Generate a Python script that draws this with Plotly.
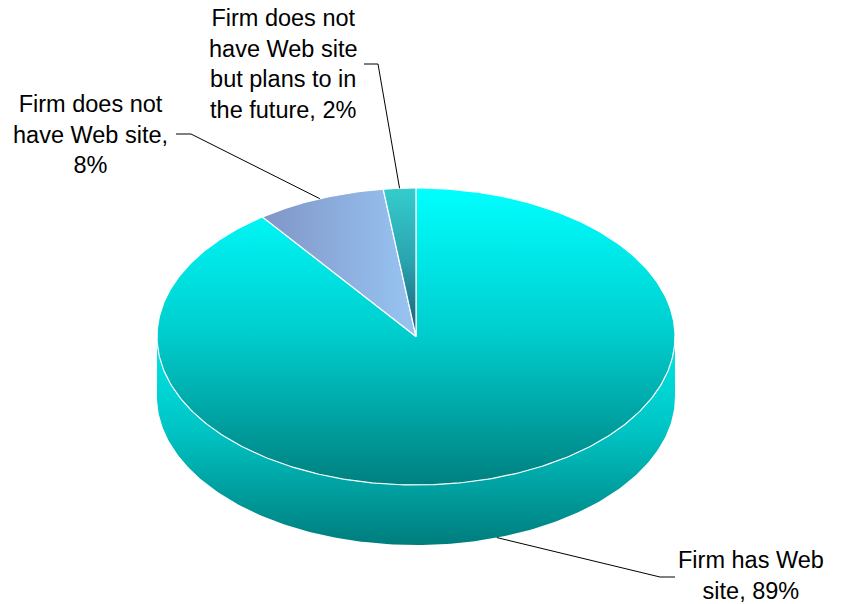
import numpy as np
import plotly.graph_objects as go

# Survey shares (percent)
categories = ["Firm has Web site",
              "Firm does not have Web site",
              "Firm does not have Web site but plans to in the future"]
values = [89, 8, 2]
label_texts = ["Firm has Web<br>site, 89%",
               "Firm does not<br>have Web site,<br>8%",
               "Firm does not<br>have Web site<br>but plans to in<br>the future, 2%"]

# Pie geometry (pixel space: the axes map 1:1 to the page)
W, H = 844, 604
CX, CY = 416, 336.5
RX, RY = 259, 148.5
DEPTH = 60

fills = [
    dict(type="vertical", start=CY - RY, stop=CY + RY,
         colorscale=[[0, "#00ffff"], [0.5, "#00cccc"], [1, "#008080"]]),
    dict(type="horizontal", start=CX - 150, stop=CX - 10,
         colorscale=[[0, "#8196c8"], [1, "#96c2f0"]]),
    dict(type="vertical", start=CY - RY, stop=CY,
         colorscale=[[0, "#35cccc"], [0.5, "#2aa3ae"], [1, "#1a5a78"]]),
]
side_fill = dict(type="vertical", start=CY, stop=CY + RY + DEPTH,
                 colorscale=[[0, "#00e8e8"], [0.45, "#00c4c4"], [1, "#007d7d"]])

# label anchor (text centre) and elbow of the leader line
label_pos = [(751, 575), (90, 134), (283, 64)]
elbows = [((675, 577), (660, 577)), ((176, 134), (191, 134)), ((364, 64), (378, 64))]
font = dict(family="Liberation Sans, Arial, sans-serif", size=23.5, color="#000000")


def ell(t, dy=0.0):
    return CX + RX * np.cos(t), CY - RY * np.sin(t) + dy


total = sum(values)
fig = go.Figure()

# slice angles: start at 12 o'clock, go clockwise
angles = []
a = np.pi / 2
for v in values:
    sweep = 2 * np.pi * v / total
    angles.append((a, a - sweep))
    a -= sweep

# front wall: the part of each slice's rim lying in the lower half of the ellipse
for i, (a0, a1) in enumerate(angles):
    lo, hi = min(a0, a1), max(a0, a1)
    # visible front arc is t in [-pi, 0] (mod 2pi)
    for shift in (0, -2 * np.pi, 2 * np.pi):
        s, e = max(lo + shift, -np.pi), min(hi + shift, 0)
        if e > s:
            t = np.linspace(s, e, 200)
            xt, yt = ell(t)
            xb, yb = ell(t[::-1], DEPTH)
            fig.add_trace(go.Scatter(
                x=np.concatenate([xt, xb, xt[:1]]),
                y=np.concatenate([yt, yb, yt[:1]]),
                mode="lines", fill="toself", line=dict(width=0, color="rgba(0,0,0,0)"),
                fillgradient=side_fill, hoverinfo="skip", showlegend=False))

# top face slices
for i, (a0, a1) in enumerate(angles):
    t = np.linspace(a0, a1, 400)
    xs, ys = ell(t)
    x = np.concatenate([[CX], xs, [CX]])
    y = np.concatenate([[CY], ys, [CY]])
    fig.add_trace(go.Scatter(
        x=x, y=y, mode="lines", fill="toself",
        line=dict(color="#ffffff", width=1.2),
        fillgradient=fills[i], name=categories[i],
        hoverinfo="name", showlegend=False))

# leader lines and labels
for i, (a0, a1) in enumerate(angles):
    mid = (a0 + a1) / 2
    if np.sin(mid) < 0:
        px, py = ell(mid, DEPTH)
    else:
        px, py = ell(mid)
    (ex0, ey0), (ex1, ey1) = elbows[i]
    fig.add_trace(go.Scatter(
        x=[ex0, ex1, px], y=[ey0, ey1, py], mode="lines",
        line=dict(color="#000000", width=1), hoverinfo="skip", showlegend=False))
    lx, ly = label_pos[i]
    fig.add_annotation(x=lx, y=ly, text=label_texts[i], showarrow=False,
                       font=font, align="center", xanchor="center", yanchor="middle")

fig.update_layout(
    width=W, height=H, autosize=False,
    margin=dict(l=0, r=0, t=0, b=0),
    paper_bgcolor="#ffffff", plot_bgcolor="#ffffff",
    xaxis=dict(range=[0, W], visible=False, fixedrange=True),
    yaxis=dict(range=[H, 0], visible=False, fixedrange=True),
)

fig.write_html("out.html")
